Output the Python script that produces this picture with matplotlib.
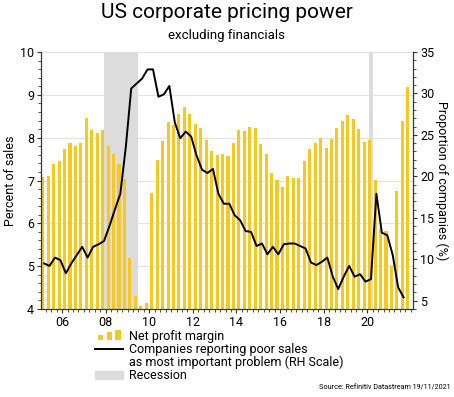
import numpy as np
import matplotlib
matplotlib.use("Agg")
import matplotlib.pyplot as plt
from matplotlib.patches import Rectangle
from matplotlib.lines import Line2D
from matplotlib.legend_handler import HandlerBase
from matplotlib.ticker import MultipleLocator

plt.rcParams['font.family'] = ['Roboto', 'DejaVu Sans']

# net profit margin, % of sales, quarterly from 2005 Q1
margin = [7.09, 7.11, 7.39, 7.45, 7.74, 7.87, 7.81, 7.87, 8.46, 8.18, 8.12, 8.19,
          7.81, 7.63, 7.39, 7.03, 5.18, 4.30, 4.07, 4.13, 6.70, 7.48, 7.92, 8.37,
          8.29, 8.56, 8.72, 8.55, 8.31, 8.23, 7.95, 7.68, 7.59, 7.62, 7.57, 7.87,
          8.19, 8.16, 8.24, 8.23, 7.85, 7.61, 7.18, 7.01, 6.84, 7.11, 7.06, 7.06,
          7.46, 7.73, 7.88, 8.00, 7.75, 7.98, 8.22, 8.40, 8.54, 8.43, 8.21, 7.90,
          7.95, 7.01, 5.87, 5.82, 5.00, 6.76, 8.40, 9.19]

# companies reporting poor sales as most important problem, % (RH scale)
poor_sales = [9.5, 9.2, 10.2, 9.9, 8.3, 9.5, 10.5, 11.5, 10.2, 11.5, 11.8, 12.2,
              14.0, 16.0, 17.9, 23.5, 30.6, 31.2, 31.8, 32.9, 32.9, 29.6, 29.9, 30.9,
              26.5, 24.6, 25.4, 24.8, 22.5, 20.8, 20.4, 20.9, 17.9, 16.7, 16.7, 15.3,
              14.7, 13.4, 13.3, 11.6, 11.9, 10.6, 11.5, 10.6, 11.8, 11.9, 11.9, 11.6,
              11.3, 9.6, 9.3, 9.7, 10.2, 7.9, 6.4, 7.9, 9.2, 7.9, 8.2, 7.3,
              7.6, 17.9, 13.2, 12.9, 10.5, 6.6, 5.4]

recessions = [(2007.92, 2009.5), (2020.08, 2020.25)]
year_ticks = [2006, 2008, 2010, 2012, 2014, 2016, 2018, 2020]
year_labels = ['06', '08', '10', '12', '14', '16', '18', '20']

bar_col = '#F7C81E'
rec_col = '#DCDCDC'
spine_col = '#333333'

dates = 2005.11 + np.arange(len(margin)) * 0.25
line_dates = dates[:len(poor_sales)] + 0.06

fig = plt.figure(figsize=(4.54, 3.97), dpi=100)
ax = fig.add_axes([41/454, 1 - 309/397, 372/454, 257/397])
ax2 = ax.twinx()

for a, b in recessions:
    ax.axvspan(a, b, color=rec_col, lw=0, zorder=1)
ax.bar(dates, np.array(margin) - 4, bottom=4, width=0.14, color=bar_col, zorder=2)
ax2.plot(line_dates, poor_sales, color='black', lw=1.4, zorder=3)

ax.set_xlim(2005.03, 2022.1)
ax.set_ylim(4, 10)
ax2.set_ylim(4, 35)
ax.set_xticks(year_ticks)
ax.set_xticklabels(year_labels)
ax.xaxis.set_minor_locator(MultipleLocator(0.25))
ax.yaxis.set_major_locator(MultipleLocator(1))
ax.yaxis.set_minor_locator(MultipleLocator(0.2))
ax2.yaxis.set_minor_locator(MultipleLocator(1))
ax2.set_yticks([5, 10, 15, 20, 25, 30, 35])

ax.grid(axis='y', color='#E2E2E2', lw=0.8, zorder=0)
ax.set_axisbelow(True)

for a in (ax, ax2):
    a.spines['top'].set_visible(False)
    for s in ('left', 'right', 'bottom'):
        a.spines[s].set_color(spine_col)
        a.spines[s].set_linewidth(0.8)
    a.tick_params(which='major', length=3, width=0.8, color=spine_col, labelsize=9, pad=2)
    a.tick_params(which='minor', length=2, width=0.6, color=spine_col)
ax2.patch.set_visible(False)

ax.set_ylabel('Percent of sales', fontsize=9, labelpad=2)
ax2.set_ylabel('Proportion of companies (%)', fontsize=9, rotation=270, labelpad=10)

fig.text(0.5, 1 - 12/397, 'US corporate pricing power', ha='center', va='center', fontsize=15)
fig.text(0.5, 1 - 36/397, 'excluding financials', ha='center', va='center', fontsize=9.5)
fig.text(451/454, 1 - 388/397, 'Source: Refinitiv Datastream 19/11/2021', ha='right',
         va='center', fontsize=5.2)


class BarIcon(HandlerBase):
    def create_artists(self, legend, orig, xd, yd, w, h, fontsize, trans):
        bw = w / 5.0
        out = []
        for k, frac in enumerate([0.55, 0.8, 1.0]):
            x0 = xd + w - (3 - k) * bw * 1.6 + 0.3 * bw
            r = Rectangle((x0, -yd), bw, h * frac * 1.1, facecolor=bar_col,
                          edgecolor='none', transform=trans)
            out.append(r)
        return out


handles = [Rectangle((0, 0), 1, 1, color=bar_col),
           Line2D([], [], color='black', lw=1.4),
           Line2D([], [], color='none'),
           Rectangle((0, 0), 1, 1, color=rec_col)]
labels = ['Net profit margin', 'Companies reporting poor sales',
          'as most important problem (RH Scale)', 'Recession']
fig.legend(handles, labels, loc='upper left', bbox_to_anchor=(95/454, 1 - 330/397),
           frameon=False, fontsize=9, handlelength=2.2, handletextpad=0.5,
           labelspacing=0.0, borderpad=0, borderaxespad=0,
           handler_map={handles[0]: BarIcon()})

fig.savefig('out.png', dpi=100)
